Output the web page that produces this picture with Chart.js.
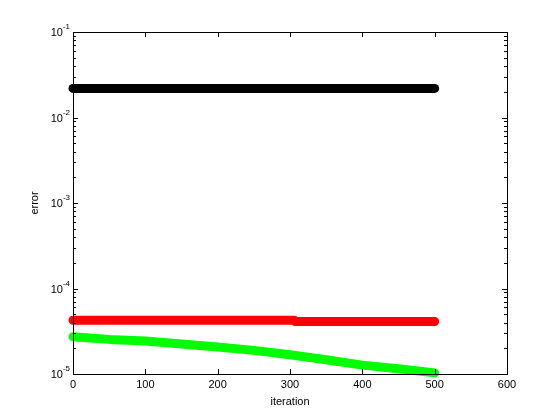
<!DOCTYPE html>
<html><head><meta charset="utf-8">
<script src="https://cdn.jsdelivr.net/npm/chart.js@4/dist/chart.umd.min.js"></script>
<style>html,body{margin:0;padding:0;background:#fff}#wrap{width:560px;height:420px}</style>
</head><body><div id="wrap"><canvas id="c" width="560" height="420"></canvas></div>
<script>
const blackX = [0, 500];
const blackY = [0.0219, 0.0219];
const redX = [0, 306, 307, 500];
const redY = [4.25e-5, 4.25e-5, 4.11e-5, 4.11e-5];
const greenX = [0, 50, 100, 150, 200, 250, 300, 350, 400, 450, 500];
const greenY = [2.73e-5, 2.54e-5, 2.43e-5, 2.24e-5, 2.07e-5, 1.89e-5, 1.68e-5, 1.47e-5, 1.27e-5, 1.15e-5, 1.03e-5];
const xTicks = [0, 100, 200, 300, 400, 500, 600];
const yExponents = [-5, -4, -3, -2, -1];
const xLabel = 'iteration';
const yLabel = 'error';

function pts(xs, ys){ return xs.map((x,i)=>({x:x, y:ys[i]})); }
const FONT = '"Liberation Sans", Arial, sans-serif';

const axesPlugin = {
  id: 'matlabAxes',
  afterDatasetsDraw(chart){
    const ctx = chart.ctx, a = chart.chartArea;
    const xs = chart.scales.x, ys = chart.scales.y;
    ctx.save();
    ctx.strokeStyle = '#000'; ctx.lineWidth = 1;
    ctx.strokeRect(Math.round(a.left)+0.5, Math.round(a.top)+0.5, Math.round(a.right-a.left), Math.round(a.bottom-a.top));
    ctx.beginPath();
    xTicks.forEach(v=>{
      const px = Math.round(xs.getPixelForValue(v))+0.5;
      ctx.moveTo(px, a.bottom); ctx.lineTo(px, a.bottom-5);
      ctx.moveTo(px, a.top); ctx.lineTo(px, a.top+5);
    });
    yExponents.forEach((e, idx)=>{
      const base = Math.pow(10, e);
      const py = Math.round(ys.getPixelForValue(base))+0.5;
      ctx.moveTo(a.left, py); ctx.lineTo(a.left+5, py);
      ctx.moveTo(a.right, py); ctx.lineTo(a.right-5, py);
      if (idx < yExponents.length-1){
        for (let m=2; m<=9; m++){
          const pm = Math.round(ys.getPixelForValue(m*base))+0.5;
          ctx.moveTo(a.left, pm); ctx.lineTo(a.left+3, pm);
          ctx.moveTo(a.right, pm); ctx.lineTo(a.right-3, pm);
        }
      }
    });
    ctx.stroke();
    ctx.fillStyle = '#000';
    ctx.font = '11px ' + FONT;
    ctx.textAlign = 'center'; ctx.textBaseline = 'middle';
    xTicks.forEach(v=>{
      ctx.fillText(String(v), xs.getPixelForValue(v), a.bottom+11);
    });
    ctx.fillText(xLabel, (a.left+a.right)/2, a.bottom+28);
    yExponents.forEach(e=>{
      const py = ys.getPixelForValue(Math.pow(10,e));
      ctx.font = '8px ' + FONT;
      const sup = String(e);
      const sw = ctx.measureText(sup).width;
      ctx.textAlign = 'right'; ctx.textBaseline = 'middle';
      const supRight = a.left - 3;
      ctx.fillText(sup, supRight, py-5);
      ctx.font = '11px ' + FONT;
      ctx.fillText('10', supRight - sw, py+1);
    });
    ctx.save();
    ctx.translate(a.left-38, (a.top+a.bottom)/2);
    ctx.rotate(-Math.PI/2);
    ctx.font = '11px ' + FONT;
    ctx.textAlign = 'center'; ctx.textBaseline = 'middle';
    ctx.fillText(yLabel, 0, 0);
    ctx.restore();
    ctx.restore();
  }
};

const ds = (data, color) => ({
  data: data, borderColor: color, backgroundColor: color,
  borderWidth: 9, pointRadius: 0, borderCapStyle: 'round', borderJoinStyle: 'round',
  tension: 0, fill: false
});

new Chart(document.getElementById('c'), {
  type: 'line',
  data: { datasets: [
    ds(pts(blackX, blackY), '#000000'),
    ds(pts(redX, redY), '#ff0000'),
    ds(pts(greenX, greenY), '#00ff00')
  ]},
  options: {
    responsive: false, animation: false, devicePixelRatio: 1,
    layout: { padding: { left: 73, top: 32, right: 53, bottom: 46 } },
    plugins: { legend: { display: false }, tooltip: { enabled: false } },
    clip: false,
    scales: {
      x: { type: 'linear', min: 0, max: 600, display: false },
      y: { type: 'logarithmic', min: 1e-5, max: 1e-1, display: false }
    }
  },
  plugins: [axesPlugin]
});
</script></body></html>
